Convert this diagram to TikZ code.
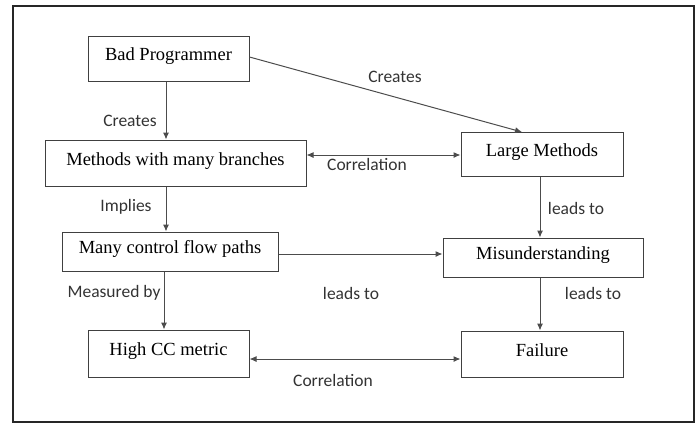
\documentclass[tikz,border=0pt]{standalone}
\usepackage{fontspec}
\setmainfont{Liberation Serif}
\newfontfamily\labelfont{Carlito}
\usetikzlibrary{arrows.meta}
\begin{document}
\begin{tikzpicture}[x=1pt,y=-1pt,
  box/.style={draw=black!75, line width=1pt, inner sep=0pt, text height=12pt, text depth=8pt,
    font=\fontsize{18.5}{20}\selectfont},
  link/.style={draw=black!70, line width=1pt, -{Latex[length=7pt,width=6pt]}},
  biline/.style={draw=black!70, line width=1pt, {Latex[length=7pt,width=6pt]}-{Latex[length=7pt,width=6pt]}},
  lbl/.style={font=\labelfont\fontsize{17.5}{19}\selectfont, inner sep=0pt, text=black!80}]
\useasboundingbox (0,0) rectangle (699,424);
% outer frame
\draw[black!85, line width=1.6pt] (13,6) rectangle (694,422);

% boxes
\node[box, minimum width=161pt, minimum height=45pt] (bad)  at (168.5,58.5) {Bad Programmer};
\node[box, minimum width=261pt, minimum height=46pt] (mwmb) at (175.5,163)  {Methods with many branches};
\node[box, minimum width=162pt, minimum height=44pt] (large) at (542,154)   {Large Methods};
\node[box, minimum width=216pt, minimum height=39pt] (mcfp) at (170,251.5)  {Many control flow paths};
\node[box, minimum width=200pt, minimum height=39pt] (mis)  at (543,257.5)  {Misunderstanding};
\node[box, minimum width=161pt, minimum height=47pt] (hcc)  at (168.5,353.5) {High CC metric};
\node[box, minimum width=162pt, minimum height=46pt] (fail) at (542,354)    {Failure};

% connectors
\draw[link] (bad.south -| 166,0) -- (mwmb.north -| 166,0);
\draw[link] (bad.east |- 0,57) -- (522,132);
\draw[biline] (mwmb.east |- 0,155) -- (large.west |- 0,155);
\draw[link] (mwmb.south -| 166,0) -- (mcfp.north -| 166,0);
\draw[link] (large.south -| 540,0) -- (mis.north -| 540,0);
\draw[link] (mcfp.east |- 0,254) -- (mis.west |- 0,254);
\draw[link] (mcfp.south -| 164,0) -- (hcc.north -| 164,0);
\draw[link] (mis.south -| 540,0) -- (fail.north -| 540,0);
\draw[biline] (hcc.east |- 0,359) -- (fail.west |- 0,359);

% connector labels
\node[lbl] (l1) at (130,121) {Creates};
\node[lbl] (l2) at (395,77)  {Creates};
\node[lbl] (l3) at (367,164) {Correlation};
\node[lbl] (l4) at (126,207) {Implies};
\node[lbl] (l5) at (576,208) {leads to};
\node[lbl] (l6) at (114,293) {Measured by};
\node[lbl] (l7) at (351,293) {leads to};
\node[lbl] (l8) at (593,293) {leads to};
\node[lbl] (l9) at (333,380) {Correlation};
\end{tikzpicture}
\end{document}
